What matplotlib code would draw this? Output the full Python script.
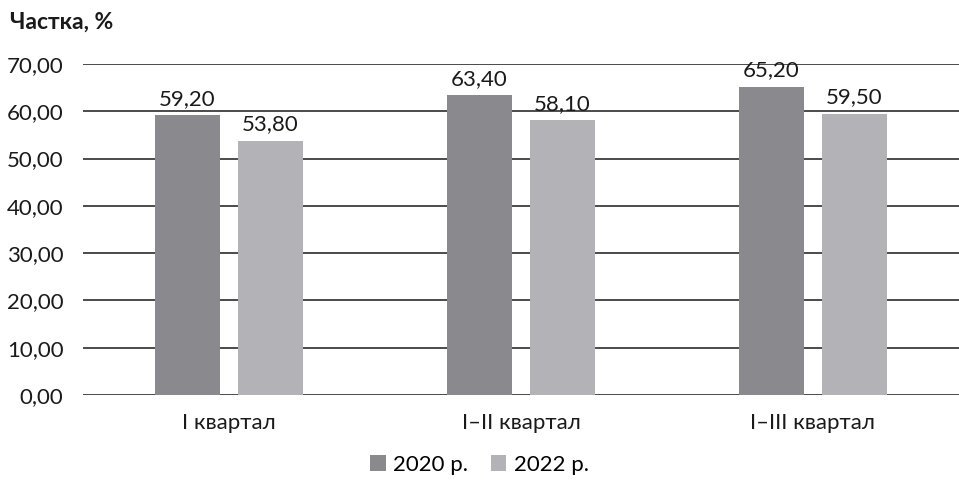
import matplotlib.pyplot as plt
import numpy as np

categories = ["I квартал", "I–II квартал", "I–III квартал"]
series_2020 = [59.20, 63.40, 65.20]
series_2022 = [53.80, 58.10, 59.50]
series_names = ["2020 р.", "2022 р."]
yticks = [0, 10, 20, 30, 40, 50, 60, 70]

plt.rcParams['font.family'] = ['Lato', 'DejaVu Sans']

fig = plt.figure(figsize=(9.59, 4.93), dpi=100)
ax = fig.add_axes([83/959, 1-395/493, 876/959, (395-64)/493])

x = np.arange(len(categories))
w = 0.222
off = 0.142
c1, c2 = '#8a8a8e', '#b3b3b7'
b1 = ax.bar(x - off, series_2020, w, color=c1, label=series_names[0], zorder=3)
b2 = ax.bar(x + off, series_2022, w, color=c2, label=series_names[1], zorder=3)

fmt = lambda v: f"{v:.2f}".replace('.', ',')
for bars, vals in ((b1, series_2020), (b2, series_2022)):
    for r, v in zip(bars, vals):
        ax.text(r.get_x() + r.get_width()/2, v + 1.3, fmt(v), ha='center', va='bottom',
                fontsize=16, color='#1a1a1a')

ax.set_xlim(-0.5, 2.5)
ax.set_ylim(0, 70)
ax.set_yticks(yticks)
ax.set_yticklabels([fmt(v) for v in yticks], fontsize=16, color='#1a1a1a')
ax.set_xticks(x)
ax.set_xticklabels(categories, fontsize=16, color='#1a1a1a')
ax.tick_params(axis='both', length=0)
ax.tick_params(axis='y', pad=14)
ax.tick_params(axis='x', pad=13)
for s in ax.spines.values():
    s.set_visible(False)
ax.grid(axis='y', color='#1a1a1a', linewidth=1.1, zorder=0)
ax.set_axisbelow(True)

fig.text(10/959, 1-22/493, "Частка, %", fontsize=16.5, fontweight='bold', va='center', ha='left', color='#1a1a1a')

fig.legend(handles=[b1, b2], labels=series_names, loc='center', bbox_to_anchor=(0.5, 1-465/493),
           ncol=2, frameon=False, fontsize=16, handlelength=0.7, handleheight=0.7,
           handletextpad=0.35, columnspacing=1.0)

fig.savefig('out.png', dpi=100)
